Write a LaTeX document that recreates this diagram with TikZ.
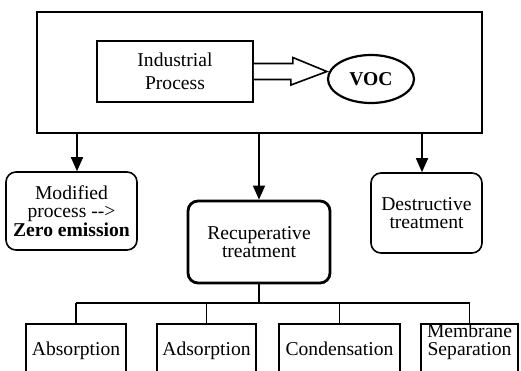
\documentclass[tikz,border=0pt]{standalone}
\usepackage{fontspec}
\setmainfont{Liberation Serif}
\usetikzlibrary{calc, arrows.meta, positioning, shapes.geometric}

\begin{document}
\begin{tikzpicture}[
    x=1pt, y=-1pt,
    >={Triangle[length=14pt, width=12pt]},
    line width=1.6pt,
    font=\fontsize{19.6}{18.5}\selectfont,
    box/.style={draw, rectangle, align=center, inner sep=0pt},
    roundbox/.style={box, rounded corners=10pt},
    leafbox/.style={box, anchor=north, text height=32pt, text depth=30pt}
]

    \useasboundingbox (0,0) rectangle (521,370);
    \clip (0,0) rectangle (521,370);

    % Source frame with the process and the emission
    \node[box, minimum width=445pt, minimum height=121pt] (frame) at (259.5,72.5) {};
    \node[box, minimum width=156pt, minimum height=61pt] (proc) at (175,71.5) {Industrial\\[4.5pt]Process};
    \node[draw, ellipse, line width=2.2pt, minimum width=86pt, minimum height=48pt,
          font=\fontsize{19.6}{18.5}\selectfont\bfseries] (voc) at (371,79) {VOC};

    % Block arrow from process to VOC
    \draw[fill=white, line join=miter] ([yshift=8pt]proc.east) -- ++(39,0) -- ++(0,-6)
        -- (proc.east -| voc.west) -- ++(-36,13.5) -- ++(0,-5.5) -- ([yshift=-8pt]proc.east);

    % Treatment options
    \node[roundbox, minimum width=131pt, minimum height=78pt] (modif) at (71.5,211)
        {Modified\\process -{}->\\\textbf{Zero emission}};
    \node[roundbox, line width=2.8pt, minimum width=142pt, minimum height=82pt] (recup) at (259,242)
        {Recuperative\\treatment};
    \node[roundbox, minimum width=111pt, minimum height=80pt] (destr) at (426.5,213)
        {Destructive\\treatment};

    \coordinate (modin) at ($(modif.north)+(5.5,0)$);
    \coordinate (destin) at ($(destr.north)+(-4.5,0)$);
    \draw[->] (frame.south -| modin) -- (modin);
    \draw[->] (frame.south -| recup.north) -- (recup.north);
    \draw[->] (frame.south -| destin) -- (destin);

    % Recuperative techniques
    \node[leafbox, minimum width=100pt] (absorp) at (76,323) {Absorption};
    \node[leafbox, minimum width=99pt] (adsorp) at (206.5,323) {Adsorption};
    \node[leafbox, minimum width=121pt] (conden) at (339.5,323) {Condensation};
    \node[leafbox, minimum width=97pt] (memb) at (469.5,323) {Membrane\\Separation};

    \coordinate (fork) at (recup.south |- 0,303);
    \draw (recup.south) -- (fork);
    \draw (absorp.north |- fork) -- (memb.north |- fork);
    \foreach \leaf in {absorp, adsorp, conden, memb}
        \draw (\leaf.north |- fork) -- (\leaf.north);

\end{tikzpicture}
\end{document}
